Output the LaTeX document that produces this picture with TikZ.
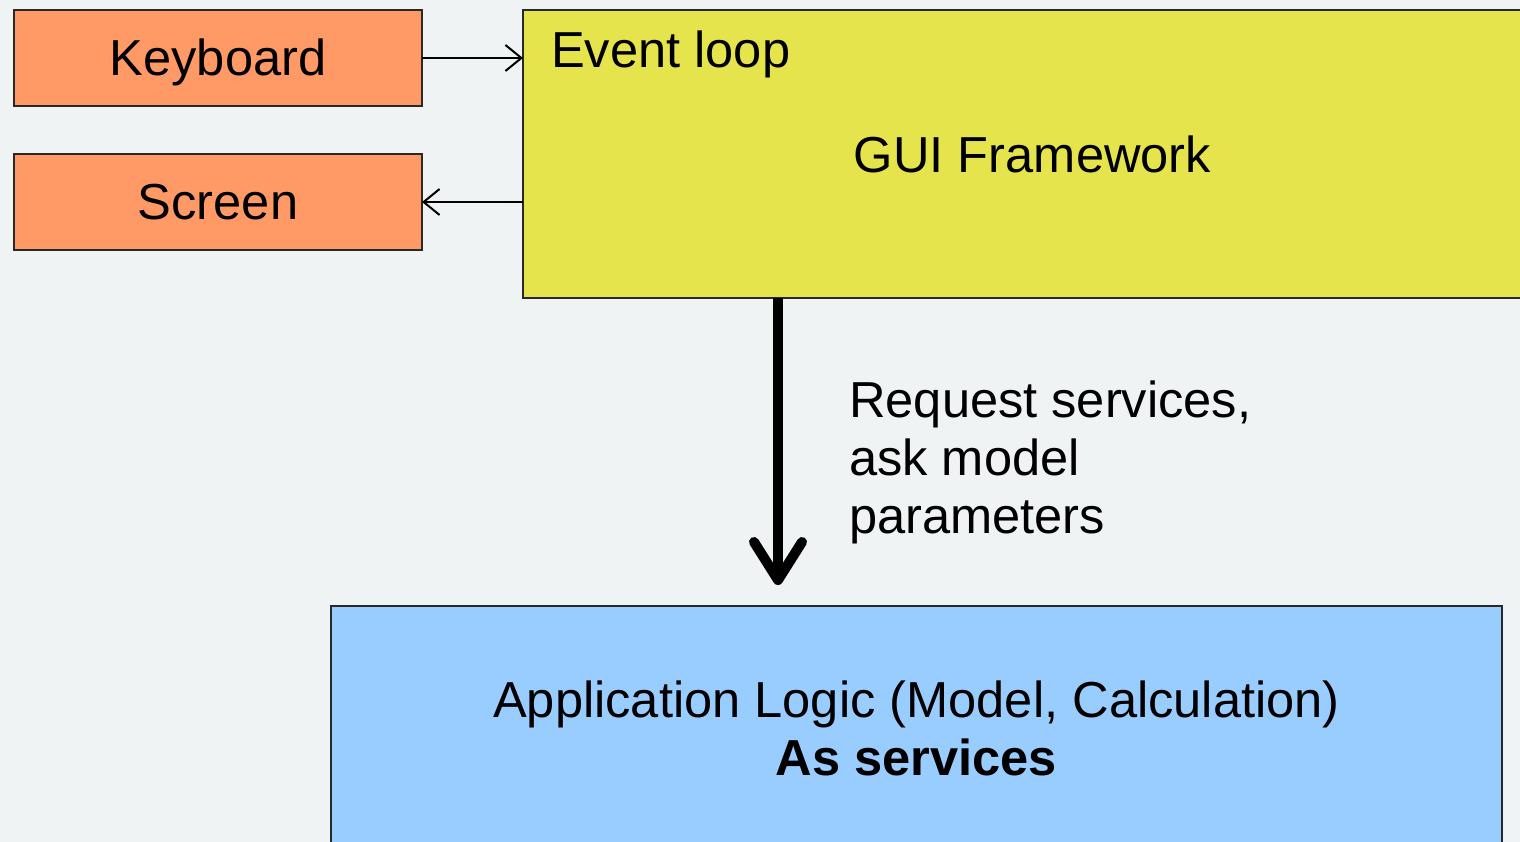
\documentclass[tikz,border=0pt]{standalone}
\usepackage{fontspec}
\setmainfont{Liberation Sans}
\usetikzlibrary{arrows.meta}

\definecolor{pagebg}{RGB}{239,243,244}
\definecolor{devicefill}{RGB}{255,153,102}
\definecolor{framefill}{RGB}{230,228,76}
\definecolor{logicfill}{RGB}{153,204,255}
\definecolor{edge}{RGB}{40,40,40}

\tikzset{
  box/.style={draw=edge, line width=1.2pt, inner sep=0pt, outer sep=0pt},
  devbox/.style={box, fill=devicefill, minimum width=408pt, minimum height=96pt,
                 font=\fontsize{50.6}{58}\selectfont, text height=36pt, text depth=0pt},
  txt/.style={inner sep=0pt, font=\fontsize{50.6}{58}\selectfont},
  signal/.style={line width=2pt, -{Straight Barb[length=16pt,width=26pt,line width=2pt]}},
  request/.style={line width=10pt,
                  -{Straight Barb[length=38pt,width=48pt,line width=10pt,round]}},
}

\begin{document}
\begin{tikzpicture}[x=1pt,y=-1pt]
  % page
  \fill[pagebg] (0,0) rectangle (1520,842);
  \useasboundingbox (0,0) rectangle (1520,842);
  \clip (0,0) rectangle (1520,842);

  % input / output devices
  \node[devbox] (kbd) at (218,58)  {Keyboard};
  \node[devbox] (scr) at (218,202) {Screen};

  % GUI framework block
  \node[box, fill=framefill, minimum width=1007pt, minimum height=288pt]
       (gui) at (1026.5,154) {};
  \node[txt, anchor=base west] (evloop) at (551,68) {Event loop};
  \node[txt, anchor=base] (guiname) at (1032.5,173) {GUI Framework};

  % application logic block
  \node[box, fill=logicfill, minimum width=1171pt, minimum height=256pt]
       (logic) at (916.5,734) {};
  \node[txt, anchor=base] (logicname) at (916.5,717)
       {Application Logic (Model, Calculation)};
  \node[txt, anchor=base] (logicsvc) at (916.5,775) {\bfseries As services};

  % connectors
  \draw[signal] (kbd.east) -- (kbd.east -| gui.west);
  \draw[signal] (scr.east -| gui.west) -- (scr.east);

  \coordinate (reqtip) at (778,585);
  \draw[request] (reqtip |- gui.south) -- (reqtip);

  % label of the request arrow (base anchor = last line's baseline)
  \node[txt, anchor=base west, align=left] (reqlabel) at (849,533)
       {Request services,\\ask model\\parameters};
\end{tikzpicture}
\end{document}
